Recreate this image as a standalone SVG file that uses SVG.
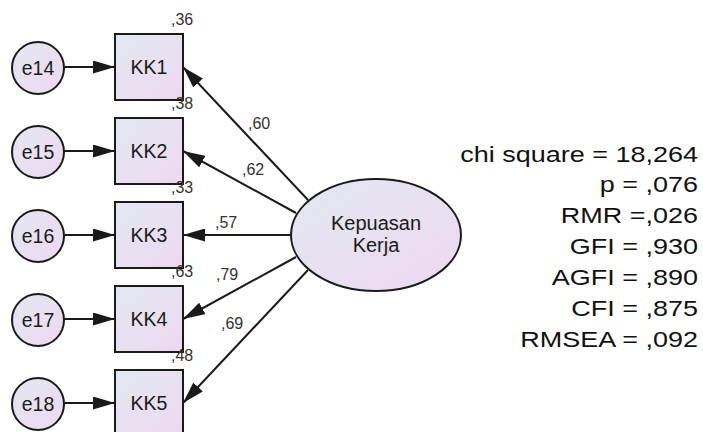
<svg xmlns="http://www.w3.org/2000/svg" width="703" height="432" viewBox="0 0 703 432">
<style>
.node{stroke:#1a1a1a;stroke-width:2}
.lbl{font-family:"Liberation Sans",Arial,sans-serif;font-size:19.5px;fill:#1a1a1a;text-anchor:middle}
.big{font-size:20px}
.w{font-family:"Liberation Sans",Arial,sans-serif;font-size:16px;fill:#333}
.fit{font-family:"Liberation Sans",Arial,sans-serif;font-size:22.5px;fill:#111;text-anchor:end}
.edge{stroke:#1a1a1a;stroke-width:2;fill:none;marker-end:url(#arr)}
</style>
<defs>
<linearGradient id="g" x1="0" y1="0" x2="1" y2="1">
<stop offset="0" stop-color="#e2e8f0"/>
<stop offset="1" stop-color="#eed8f2"/>
</linearGradient>
<marker id="arr" markerUnits="userSpaceOnUse" markerWidth="22" markerHeight="13" refX="22" refY="6.5" orient="auto">
<path d="M0,0 L22,6.5 L0,13 z" fill="#1a1a1a"/>
</marker>
</defs>
<rect width="703" height="432" fill="#ffffff"/>
<g id="connectors">
<line class="edge" x1="64" y1="67" x2="115" y2="67"/>
<line class="edge" x1="64" y1="151" x2="115" y2="151"/>
<line class="edge" x1="64" y1="235" x2="115" y2="235"/>
<line class="edge" x1="64" y1="319" x2="115" y2="319"/>
<line class="edge" x1="64" y1="403" x2="115" y2="403"/>
<line class="edge" x1="308" y1="200" x2="183" y2="67"/>
<line class="edge" x1="296" y1="213" x2="183" y2="151"/>
<line class="edge" x1="291" y1="235" x2="183" y2="235"/>
<line class="edge" x1="296" y1="257" x2="183" y2="319"/>
<line class="edge" x1="308" y1="270" x2="183" y2="403"/>
<text class="w" x="248" y="129">,60</text>
<text class="w" x="242" y="175">,62</text>
<text class="w" x="215" y="228">,57</text>
<text class="w" x="216" y="280">,79</text>
<text class="w" x="221" y="329">,69</text>
</g>
<g id="e14"><circle class="node" cx="38" cy="68" r="26" fill="url(#g)"/><text class="lbl" x="38" y="75">e14</text></g>
<g id="e15"><circle class="node" cx="38" cy="152" r="26" fill="url(#g)"/><text class="lbl" x="38" y="159">e15</text></g>
<g id="e16"><circle class="node" cx="38" cy="236" r="26" fill="url(#g)"/><text class="lbl" x="38" y="243">e16</text></g>
<g id="e17"><circle class="node" cx="38" cy="320" r="26" fill="url(#g)"/><text class="lbl" x="38" y="327">e17</text></g>
<g id="e18"><circle class="node" cx="38" cy="404" r="26" fill="url(#g)"/><text class="lbl" x="38" y="411">e18</text></g>
<g id="KK1"><rect class="node" x="115" y="34" width="68" height="66" fill="url(#g)"/><text class="lbl" x="149" y="74">KK1</text><text class="w" x="171" y="25">,36</text></g>
<g id="KK2"><rect class="node" x="115" y="118" width="68" height="66" fill="url(#g)"/><text class="lbl" x="149" y="158">KK2</text><text class="w" x="171" y="109">,38</text></g>
<g id="KK3"><rect class="node" x="115" y="202" width="68" height="66" fill="url(#g)"/><text class="lbl" x="149" y="242">KK3</text><text class="w" x="171" y="193">,33</text></g>
<g id="KK4"><rect class="node" x="115" y="286" width="68" height="66" fill="url(#g)"/><text class="lbl" x="149" y="326">KK4</text><text class="w" x="171" y="277">,63</text></g>
<g id="KK5"><rect class="node" x="115" y="370" width="68" height="66" fill="url(#g)"/><text class="lbl" x="149" y="410">KK5</text><text class="w" x="171" y="361">,48</text></g>
<g id="KepuasanKerja"><ellipse class="node" cx="376" cy="235" rx="85" ry="56" fill="url(#g)"/><text class="lbl big" x="376" y="230">Kepuasan</text><text class="lbl big" x="376" y="252">Kerja</text></g>
<g id="fit" transform="translate(698 0) scale(1.2 1)">
<text class="fit" x="0" y="162">chi square = 18,264</text>
<text class="fit" x="0" y="192">p = ,076</text>
<text class="fit" x="0" y="223">RMR =,026</text>
<text class="fit" x="0" y="254">GFI = ,930</text>
<text class="fit" x="0" y="285">AGFI = ,890</text>
<text class="fit" x="0" y="316">CFI = ,875</text>
<text class="fit" x="0" y="347">RMSEA = ,092</text>
</g>
</svg>
